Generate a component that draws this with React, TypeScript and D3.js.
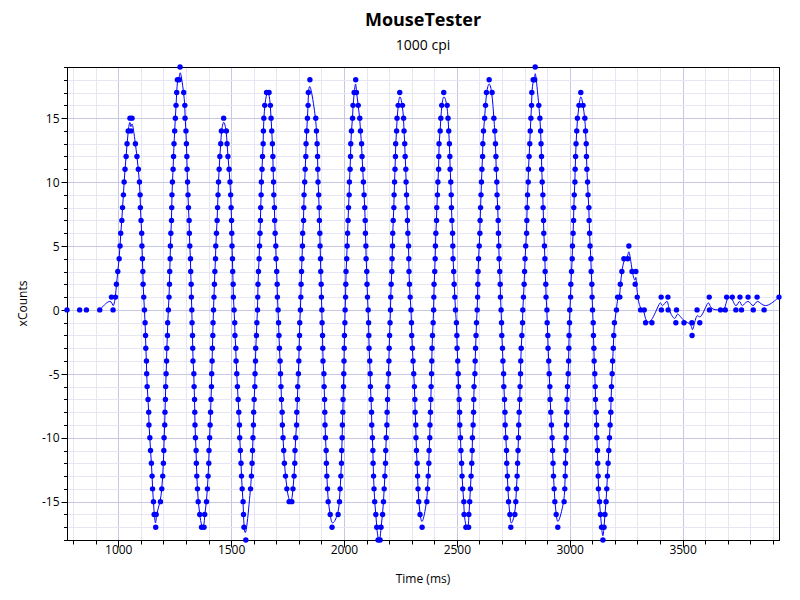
import { useEffect, useRef } from "react";
import * as d3 from "d3";

// Each sample: [time in ms, xCounts]
const lead: [number, number][] = [
  [773, 0], [829, 0], [859, 0], [918, 0], [970, 1], [977, 0], [988, 1],
];
const swing1: [number, number][] = [
  [992, 2], [998, 3], [1004, 4], [1008, 5], [1011, 6], [1016, 7], [1019, 8], [1023, 9], [1026, 10], [1030, 11], [1035, 12], [1039, 13], [1044, 14], [1052, 15], [1056, 14], [1061, 15],
  [1076, 13], [1083, 12], [1089, 11], [1094, 10], [1097, 9], [1098, 8], [1101, 7], [1104, 6], [1105, 5], [1107, 4], [1109, 3], [1110, 2], [1113, 1], [1116, 0], [1119, -1], [1121, -2], [1122, -3], [1125, -4], [1126, -5], [1128, -6], [1132, -7], [1135, -8], [1136, -9], [1140, -10], [1143, -11], [1147, -12], [1150, -13], [1152, -14], [1156, -15], [1159, -16], [1166, -17], [1168, -16],
];
const swing2: [number, number][] = [
  [1187, -15], [1193, -14], [1197, -13], [1200, -12], [1202, -11], [1203, -10], [1206, -9], [1207, -8], [1209, -7], [1210, -6], [1212, -5], [1214, -4], [1215, -3], [1218, -2], [1219, -1], [1222, 0], [1225, 1], [1227, 2], [1228, 3], [1230, 4], [1231, 5], [1233, 6], [1236, 7], [1237, 8], [1238, 9], [1240, 10], [1243, 11], [1245, 12], [1247, 13], [1250, 14], [1253, 15], [1256, 16], [1259, 17], [1262, 18], [1270, 18], [1274, 19],
  [1290, 17], [1295, 16], [1296, 15], [1300, 14], [1302, 13], [1304, 12], [1305, 11], [1307, 10], [1309, 9], [1311, 8], [1314, 7], [1315, 6], [1317, 5], [1320, 4], [1321, 3], [1323, 2], [1324, 1], [1326, 0], [1327, -1], [1329, -2], [1330, -3], [1331, -4], [1335, -5], [1336, -6], [1338, -7], [1339, -8], [1340, -9], [1342, -10], [1345, -11], [1346, -12], [1348, -13], [1351, -14], [1354, -15], [1361, -16], [1369, -17], [1380, -17], [1383, -16],
];
const swing3: [number, number][] = [
  [1391, -15], [1395, -14], [1398, -13], [1401, -12], [1402, -11], [1405, -10], [1407, -9], [1409, -8], [1411, -7], [1413, -6], [1414, -5], [1416, -4], [1417, -3], [1419, -2], [1420, -1], [1422, 0], [1424, 1], [1426, 2], [1428, 3], [1431, 4], [1432, 5], [1435, 6], [1438, 7], [1440, 8], [1442, 9], [1444, 10], [1447, 11], [1450, 12], [1454, 13], [1457, 14], [1467, 15],
  [1479, 14], [1482, 13], [1486, 12], [1491, 11], [1495, 10], [1498, 9], [1500, 8], [1502, 7], [1503, 6], [1504, 5], [1506, 4], [1507, 3], [1509, 2], [1510, 1], [1513, 0], [1516, -1], [1517, -2], [1521, -3], [1522, -4], [1525, -5], [1528, -6], [1531, -7], [1534, -8], [1537, -9], [1538, -10], [1541, -11], [1544, -12], [1546, -13], [1549, -14], [1553, -15], [1555, -16], [1557, -17], [1565, -18],
];
const swing4: [number, number][] = [
  [1586, -14], [1590, -13], [1593, -12], [1595, -11], [1597, -10], [1599, -9], [1600, -8], [1602, -7], [1605, -6], [1606, -5], [1608, -4], [1609, -3], [1612, -2], [1614, -1], [1617, 0], [1618, 1], [1619, 2], [1621, 3], [1624, 4], [1626, 5], [1628, 6], [1630, 7], [1631, 8], [1633, 9], [1634, 10], [1637, 11], [1639, 12], [1642, 13], [1643, 14], [1645, 15], [1649, 16], [1657, 17], [1668, 17], [1674, 16], [1677, 15],
  [1680, 14], [1683, 13], [1685, 12], [1686, 11], [1688, 10], [1689, 9], [1692, 8], [1693, 7], [1695, 6], [1698, 5], [1699, 4], [1702, 3], [1704, 2], [1705, 1], [1708, 0], [1710, -1], [1712, -2], [1714, -3], [1717, -4], [1719, -5], [1721, -6], [1723, -7], [1726, -8], [1727, -9], [1730, -10], [1733, -11], [1736, -12], [1741, -13], [1747, -14], [1757, -15], [1769, -15], [1774, -14],
];
const swing5: [number, number][] = [
  [1779, -13], [1782, -12], [1783, -11], [1786, -10], [1790, -9], [1791, -8], [1794, -7], [1795, -6], [1798, -5], [1800, -4], [1801, -3], [1803, -2], [1804, -1], [1807, 0], [1809, 1], [1810, 2], [1812, 3], [1814, 4], [1816, 5], [1817, 6], [1821, 7], [1822, 8], [1823, 9], [1826, 10], [1828, 11], [1831, 12], [1832, 13], [1835, 14], [1838, 15], [1841, 16], [1842, 17], [1849, 18],
  [1875, 15], [1878, 14], [1881, 13], [1883, 12], [1884, 11], [1885, 10], [1888, 9], [1890, 8], [1891, 7], [1893, 6], [1894, 5], [1896, 4], [1897, 3], [1899, 2], [1900, 1], [1902, 0], [1903, -1], [1905, -2], [1906, -3], [1907, -4], [1911, -5], [1912, -6], [1914, -7], [1915, -8], [1916, -9], [1918, -10], [1921, -11], [1922, -12], [1924, -13], [1927, -14], [1930, -15], [1939, -16], [1947, -17],
];
const swing6: [number, number][] = [
  [1974, -16], [1980, -15], [1983, -14], [1986, -13], [1989, -12], [1990, -11], [1992, -10], [1993, -9], [1995, -8], [1996, -7], [1998, -6], [1999, -5], [2000, -4], [2001, -3], [2002, -2], [2004, -1], [2005, 0], [2007, 1], [2008, 2], [2009, 3], [2012, 4], [2014, 5], [2016, 6], [2018, 7], [2020, 8], [2023, 9], [2024, 10], [2027, 11], [2029, 12], [2030, 13], [2033, 14], [2038, 15], [2040, 16], [2045, 17], [2052, 18], [2055, 17],
  [2063, 16], [2070, 15], [2073, 14], [2078, 13], [2080, 12], [2083, 11], [2086, 10], [2089, 9], [2092, 8], [2094, 7], [2095, 6], [2097, 5], [2098, 4], [2101, 3], [2102, 2], [2104, 1], [2107, 0], [2109, -1], [2110, -2], [2111, -3], [2114, -4], [2116, -5], [2117, -6], [2120, -7], [2122, -8], [2123, -9], [2126, -10], [2128, -11], [2129, -12], [2131, -13], [2133, -14], [2136, -15], [2141, -16], [2145, -17], [2151, -18], [2160, -18], [2164, -17], [2171, -16],
];
const swing7: [number, number][] = [
  [2175, -15], [2178, -14], [2181, -13], [2184, -12], [2185, -11], [2187, -10], [2190, -9], [2191, -8], [2193, -7], [2194, -6], [2197, -5], [2199, -4], [2200, -3], [2202, -2], [2204, -1], [2206, 0], [2207, 1], [2209, 2], [2212, 3], [2213, 4], [2215, 5], [2216, 6], [2218, 7], [2221, 8], [2222, 9], [2224, 10], [2226, 11], [2228, 12], [2229, 13], [2233, 14], [2235, 15], [2240, 16], [2247, 17],
  [2259, 16], [2264, 15], [2266, 14], [2269, 13], [2271, 12], [2274, 11], [2275, 10], [2277, 9], [2280, 8], [2281, 7], [2283, 6], [2286, 5], [2287, 4], [2288, 3], [2290, 2], [2293, 1], [2297, 0], [2299, -1], [2300, -2], [2303, -3], [2306, -4], [2309, -5], [2312, -6], [2314, -7], [2315, -8], [2318, -9], [2319, -10], [2321, -11], [2324, -12], [2326, -13], [2328, -14], [2331, -15], [2337, -16], [2346, -17],
];
const swing8: [number, number][] = [
  [2367, -15], [2370, -14], [2373, -13], [2376, -12], [2377, -11], [2380, -10], [2381, -9], [2383, -8], [2385, -7], [2386, -6], [2388, -5], [2389, -4], [2390, -3], [2392, -2], [2395, -1], [2397, 0], [2398, 1], [2399, 2], [2402, 3], [2404, 4], [2405, 5], [2407, 6], [2410, 7], [2411, 8], [2414, 9], [2416, 10], [2419, 11], [2420, 12], [2421, 13], [2426, 14], [2429, 15], [2433, 16], [2442, 17],
  [2457, 16], [2461, 15], [2464, 14], [2467, 13], [2469, 12], [2470, 11], [2473, 10], [2475, 9], [2476, 8], [2478, 7], [2481, 6], [2482, 5], [2483, 4], [2486, 3], [2488, 2], [2491, 1], [2494, 0], [2498, -1], [2500, -2], [2501, -3], [2504, -4], [2506, -5], [2507, -6], [2510, -7], [2512, -8], [2513, -9], [2516, -10], [2518, -11], [2521, -12], [2523, -13], [2526, -14], [2531, -15], [2532, -16], [2540, -17], [2552, -17], [2553, -16],
];
const swing9: [number, number][] = [
  [2557, -15], [2560, -14], [2563, -13], [2566, -12], [2568, -11], [2569, -10], [2572, -9], [2574, -8], [2575, -7], [2576, -6], [2580, -5], [2581, -4], [2583, -3], [2585, -2], [2587, -1], [2590, 0], [2592, 1], [2593, 2], [2594, 3], [2596, 4], [2599, 5], [2602, 6], [2603, 7], [2605, 8], [2607, 9], [2609, 10], [2611, 11], [2614, 12], [2615, 13], [2618, 14], [2623, 15], [2627, 16], [2631, 17], [2643, 18], [2656, 17],
  [2664, 15], [2668, 14], [2671, 13], [2673, 12], [2674, 11], [2677, 10], [2678, 9], [2681, 8], [2683, 7], [2684, 6], [2686, 5], [2687, 4], [2690, 3], [2692, 2], [2693, 1], [2696, 0], [2698, -1], [2699, -2], [2702, -3], [2704, -4], [2707, -5], [2708, -6], [2711, -7], [2713, -8], [2714, -9], [2717, -10], [2720, -11], [2721, -12], [2724, -13], [2726, -14], [2729, -15], [2735, -16], [2739, -17],
];
const swing10: [number, number][] = [
  [2757, -16], [2761, -15], [2764, -14], [2767, -13], [2769, -12], [2771, -11], [2773, -10], [2774, -9], [2776, -8], [2779, -7], [2780, -6], [2782, -5], [2783, -4], [2785, -3], [2788, -2], [2791, -1], [2792, 0], [2795, 1], [2798, 2], [2800, 3], [2802, 4], [2805, 5], [2809, 6], [2810, 7], [2811, 8], [2813, 9], [2816, 10], [2817, 11], [2820, 12], [2823, 13], [2825, 14], [2828, 15], [2831, 16], [2832, 17], [2838, 18], [2845, 18], [2847, 19],
  [2863, 16], [2868, 15], [2871, 14], [2873, 13], [2875, 12], [2876, 11], [2878, 10], [2881, 9], [2882, 8], [2884, 7], [2885, 6], [2888, 5], [2890, 4], [2891, 3], [2894, 2], [2895, 1], [2899, 0], [2900, -1], [2903, -2], [2904, -3], [2907, -4], [2909, -5], [2912, -6], [2913, -7], [2916, -8], [2919, -9], [2922, -10], [2924, -11], [2926, -12], [2928, -13], [2931, -14], [2934, -15], [2940, -16], [2947, -17],
];
const swing11: [number, number][] = [
  [2975, -15], [2978, -14], [2980, -13], [2981, -12], [2983, -11], [2984, -10], [2986, -9], [2987, -8], [2988, -7], [2990, -6], [2993, -5], [2995, -4], [2996, -3], [2997, -2], [2999, -1], [3000, 0], [3004, 1], [3005, 2], [3008, 3], [3011, 4], [3012, 5], [3015, 6], [3017, 7], [3018, 8], [3020, 9], [3023, 10], [3024, 11], [3026, 12], [3028, 13], [3031, 14], [3034, 15], [3041, 16], [3049, 17], [3059, 16],
  [3067, 15], [3070, 14], [3073, 13], [3074, 12], [3076, 11], [3079, 10], [3081, 9], [3085, 8], [3086, 7], [3088, 6], [3090, 5], [3094, 4], [3095, 3], [3098, 2], [3099, 1], [3101, 0], [3104, -1], [3105, -2], [3107, -3], [3108, -4], [3111, -5], [3113, -6], [3114, -7], [3117, -8], [3119, -9], [3120, -10], [3123, -11], [3124, -12], [3126, -13], [3127, -14], [3132, -15], [3136, -16], [3141, -17], [3147, -18], [3152, -17], [3156, -16],
];
const settle: [number, number][] = [
  [3161, -15], [3164, -14], [3167, -13], [3170, -12], [3173, -11], [3176, -10], [3179, -9], [3182, -8], [3183, -7], [3185, -6], [3188, -5], [3190, -4], [3193, -3], [3195, -2], [3198, -1], [3207, 0], [3212, 1], [3222, 1], [3224, 2], [3231, 3], [3240, 4], [3257, 4], [3262, 5], [3276, 3], [3290, 2], [3293, 3], [3299, 1], [3314, 0], [3330, 0], [3336, -1], [3364, -1],
  [3405, 1], [3406, 0], [3435, 1], [3436, 0], [3470, -1], [3473, 0], [3506, -1], [3541, -1], [3542, -2], [3564, 0], [3576, -1], [3618, 1], [3619, 0], [3668, 0], [3689, 0], [3695, 1], [3720, 1], [3736, 0], [3754, 1], [3761, 0], [3790, 1], [3813, 0], [3830, 1], [3861, 0], [3927, 1],
];

const segments = [lead, swing1, swing2, swing3, swing4, swing5, swing6, swing7, swing8, swing9, swing10, swing11, settle];

const xTickValues = [1000, 1500, 2000, 2500, 3000, 3500];
const yTickValues = [-15, -10, -5, 0, 5, 10, 15];

const titulo = "MouseTester";
const subtitulo = "1000 cpi";
const etiquetaX = "Time (ms)";
const etiquetaY = "xCounts";

const FUENTE = "'Segoe UI', 'Open Sans', sans-serif";

interface Muestra {
  t: number;
  c: number;
}

export default function App() {
  const svgRef = useRef<SVGSVGElement>(null);
  const ANCHO = 800;
  const ALTO = 600;

  useEffect(() => {
    if (!svgRef.current) return;
    const svg = d3.select(svgRef.current);
    svg.selectAll("*").remove();

    const area = { left: 67, top: 67, right: 779, bottom: 540 };
    const datos: Muestra[] = segments.flat().map(([t, c]) => ({ t, c }));

    const x = d3
      .scaleLinear()
      .domain(d3.extent(datos, (d) => d.t) as [number, number])
      .range([area.left, area.right]);
    const y = d3
      .scaleLinear()
      .domain(d3.extent(datos, (d) => d.c) as [number, number])
      .range([area.bottom, area.top]);

    svg.append("rect").attr("width", ANCHO).attr("height", ALTO).attr("fill", "#ffffff");

    const [t0, t1] = x.domain();
    const [c0, c1] = y.domain();
    const menoresX = d3.range(Math.ceil(t0 / 100) * 100, t1 + 1, 100);
    const menoresY = d3.range(Math.ceil(c0), c1 + 1, 1);
    const nitido = (v: number) => Math.round(v) + 0.5;

    // Rejilla menor y mayor
    const rejilla = svg.append("g");
    rejilla
      .selectAll("line.gx")
      .data(menoresX)
      .join("line")
      .attr("x1", (d) => nitido(x(d)))
      .attr("x2", (d) => nitido(x(d)))
      .attr("y1", area.top)
      .attr("y2", area.bottom)
      .attr("stroke", (d) => (d % 500 === 0 ? "#c8c8e6" : "#e6e6f4"))
      .attr("stroke-width", 1);
    rejilla
      .selectAll("line.gy")
      .data(menoresY)
      .join("line")
      .attr("y1", (d) => nitido(y(d)))
      .attr("y2", (d) => nitido(y(d)))
      .attr("x1", area.left)
      .attr("x2", area.right)
      .attr("stroke", (d) => (d % 5 === 0 ? "#c8c8e6" : "#e6e6f4"))
      .attr("stroke-width", 1);

    // Marco del área
    svg
      .append("rect")
      .attr("x", area.left + 0.5)
      .attr("y", area.top + 0.5)
      .attr("width", area.right - area.left)
      .attr("height", area.bottom - area.top)
      .attr("fill", "none")
      .attr("stroke", "#000")
      .attr("stroke-width", 1);

    // Marcas de los ejes
    const ejeX = svg.append("g").attr("transform", `translate(0.5,${area.bottom + 0.5})`);
    ejeX
      .selectAll("line")
      .data(menoresX)
      .join("line")
      .attr("x1", (d) => Math.round(x(d)))
      .attr("x2", (d) => Math.round(x(d)))
      .attr("y1", 0)
      .attr("y2", (d) => (xTickValues.includes(d) ? 7 : 4))
      .attr("stroke", "#000");
    ejeX
      .selectAll("text")
      .data(xTickValues)
      .join("text")
      .attr("x", (d) => x(d))
      .attr("y", 13)
      .attr("text-anchor", "middle")
      .attr("font-family", FUENTE)
      .attr("font-size", 12)
      .attr("fill", "#000")
      .text((d) => String(d));

    const ejeY = svg.append("g").attr("transform", `translate(${area.left + 0.5},0.5)`);
    ejeY
      .selectAll("line")
      .data(menoresY)
      .join("line")
      .attr("y1", (d) => Math.round(y(d)))
      .attr("y2", (d) => Math.round(y(d)))
      .attr("x1", 0)
      .attr("x2", (d) => (yTickValues.includes(d) ? -6 : -3.5))
      .attr("stroke", "#000");
    ejeY
      .selectAll("text")
      .data(yTickValues)
      .join("text")
      .attr("x", -8)
      .attr("y", (d) => y(d))
      .attr("dy", "0.35em")
      .attr("text-anchor", "end")
      .attr("font-family", FUENTE)
      .attr("font-size", 12)
      .attr("fill", "#000")
      .text((d) => String(d));

    // Títulos
    const centroX = (area.left + area.right) / 2;
    svg
      .append("text")
      .attr("x", centroX)
      .attr("y", 26)
      .attr("text-anchor", "middle")
      .attr("font-family", FUENTE)
      .attr("font-size", 18)
      .attr("font-weight", 700)
      .text(titulo);
    svg
      .append("text")
      .attr("x", centroX)
      .attr("y", 50)
      .attr("text-anchor", "middle")
      .attr("font-family", FUENTE)
      .attr("font-size", 14)
      .text(subtitulo);
    svg
      .append("text")
      .attr("x", centroX)
      .attr("y", 583)
      .attr("text-anchor", "middle")
      .attr("font-family", FUENTE)
      .attr("font-size", 12)
      .text(etiquetaX);
    svg
      .append("text")
      .attr("transform", `translate(27,${(area.top + area.bottom) / 2}) rotate(-90)`)
      .attr("text-anchor", "middle")
      .attr("font-family", FUENTE)
      .attr("font-size", 12)
      .text(etiquetaY);

    // Línea suavizada (empieza tras las primeras muestras en reposo)
    const linea = d3
      .line<Muestra>()
      .x((d) => x(d.t))
      .y((d) => y(d.c))
      .curve(d3.curveBasis);
    svg
      .append("path")
      .datum(datos.slice(3))
      .attr("d", linea)
      .attr("fill", "none")
      .attr("stroke", "#0000ff")
      .attr("stroke-width", 1);

    // Puntos
    svg
      .append("g")
      .selectAll("circle")
      .data(datos)
      .join("circle")
      .attr("cx", (d) => x(d.t))
      .attr("cy", (d) => y(d.c))
      .attr("r", 2.7)
      .attr("fill", "#0000ff");
  }, []);

  return (
    <svg
      ref={svgRef}
      width={ANCHO}
      height={ALTO}
      viewBox={`0 0 ${ANCHO} ${ALTO}`}
      style={{ position: "absolute", left: 0, top: 0, display: "block" }}
    />
  );
}
